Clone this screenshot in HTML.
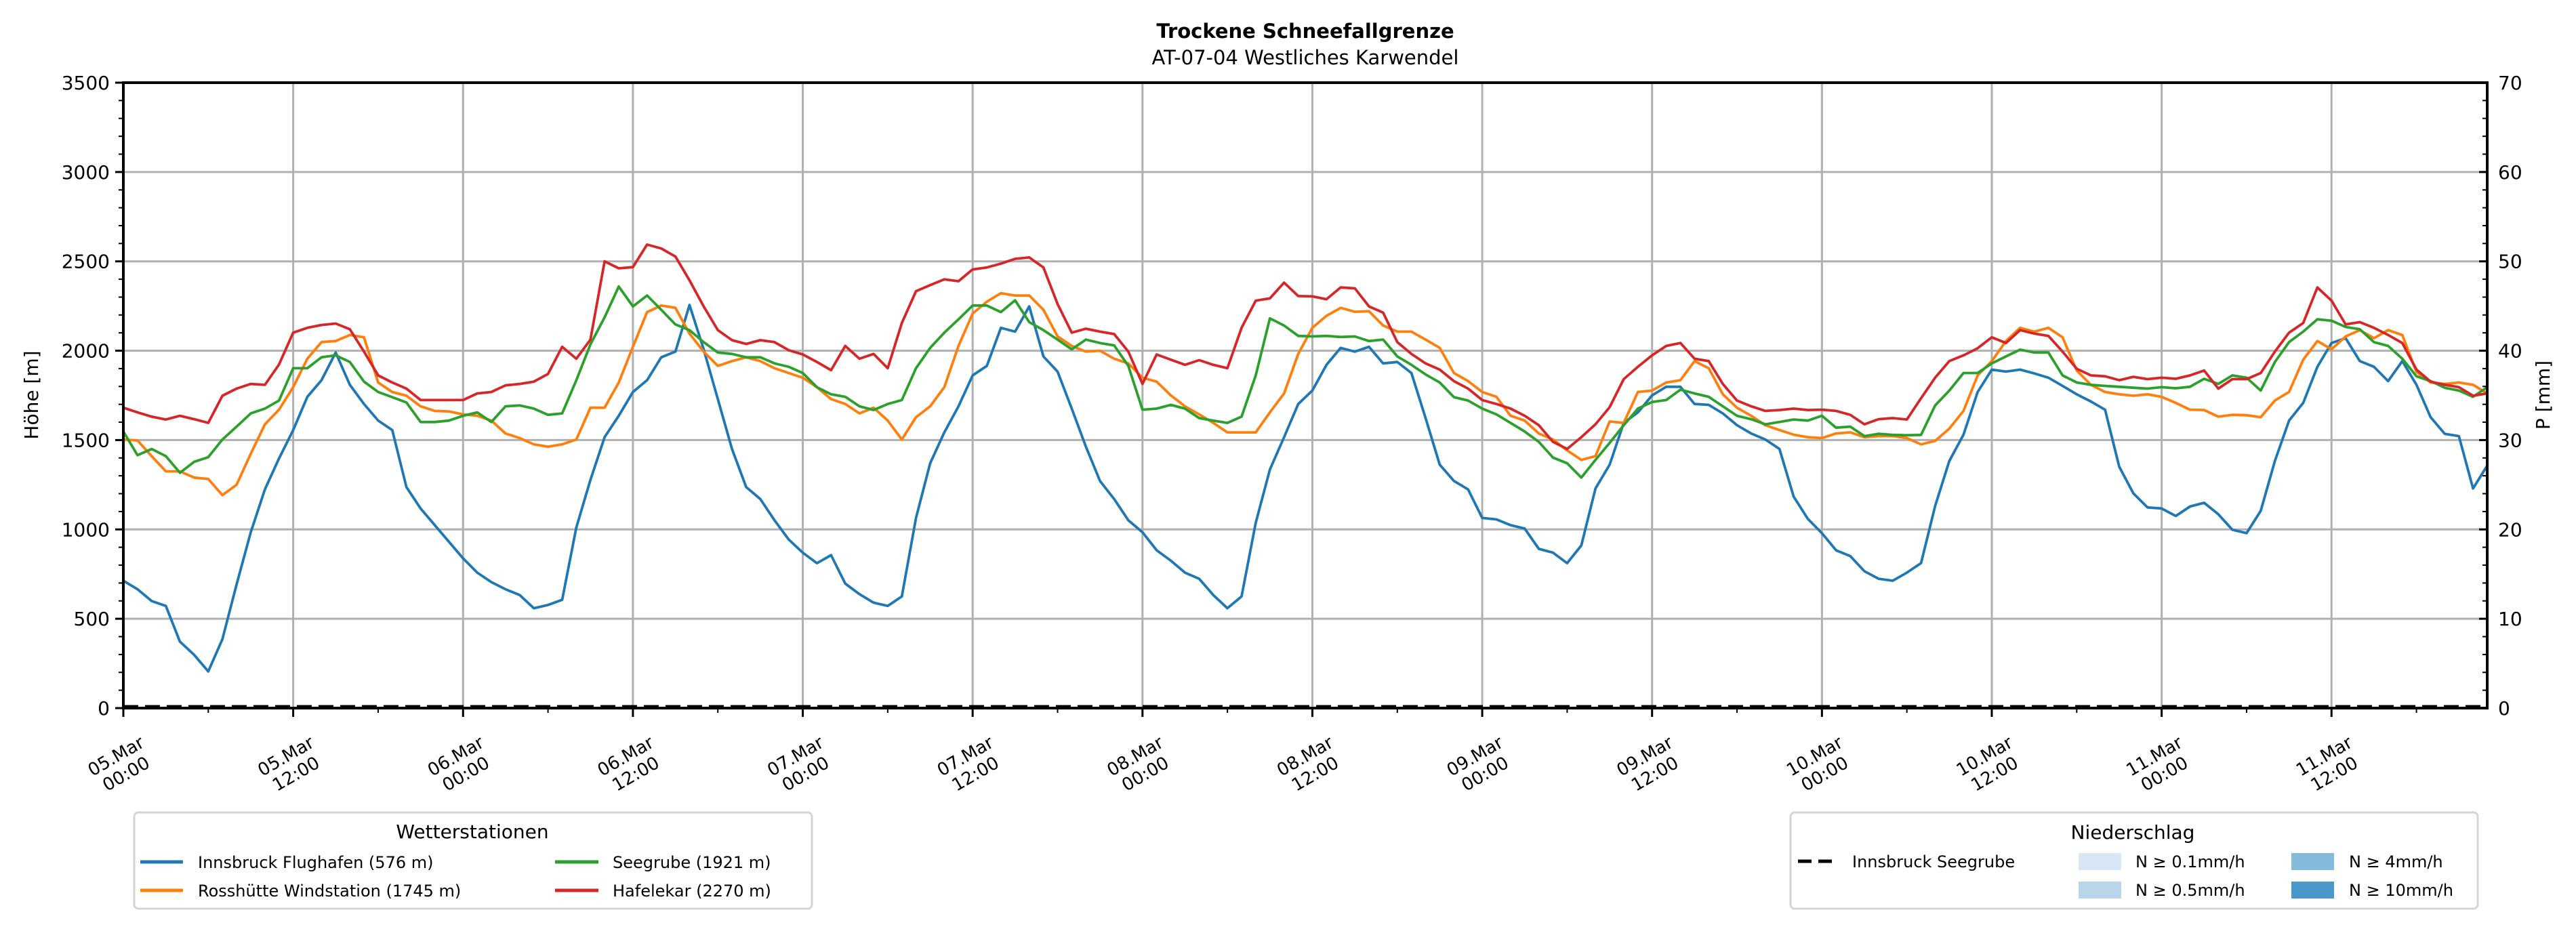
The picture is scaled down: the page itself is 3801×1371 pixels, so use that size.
<!DOCTYPE html>
<html><head><meta charset="utf-8"><style>
html,body{margin:0;padding:0;background:#fff;}
svg{display:block;font-family:"DejaVu Sans","Liberation Sans",sans-serif;}
</style></head><body>
<svg id="chart" width="3801" height="1371" viewBox="0 0 3801 1371" xmlns="http://www.w3.org/2000/svg">
<rect x="0" y="0" width="3801" height="1371" fill="#fff"/>
<text x="1926" y="56" font-size="29" font-weight="bold" text-anchor="middle">Trockene Schneefallgrenze</text>
<text x="1926" y="95" font-size="29" text-anchor="middle">AT-07-04 Westliches Karwendel</text>
<g id="grid"></g>
<g id="series"></g>
<g id="axes"></g>
<text transform="translate(56,583) rotate(-90)" font-size="28" text-anchor="middle">Höhe [m]</text>
<text transform="translate(3762,583) rotate(-90)" font-size="28" text-anchor="middle">P [mm]</text>

<g>
<rect x="198" y="1199" width="1000" height="142" rx="6" fill="#fff" stroke="#d5d5d5" stroke-width="3"/>
<text x="697" y="1237" font-size="28" text-anchor="middle">Wetterstationen</text>
<g><line x1="207" y1="1272" x2="270" y2="1272" stroke="#1f77b4" stroke-width="5"/><text x="292" y="1281" font-size="24">Innsbruck Flughafen (576 m)</text></g>
<g><line x1="207" y1="1314" x2="270" y2="1314" stroke="#ff7f0e" stroke-width="5"/><text x="292" y="1323" font-size="24">Rosshütte Windstation (1745 m)</text></g>
<g><line x1="819" y1="1272" x2="883" y2="1272" stroke="#2ca02c" stroke-width="5"/><text x="904" y="1281" font-size="24">Seegrube (1921 m)</text></g>
<g><line x1="819" y1="1314" x2="883" y2="1314" stroke="#d62728" stroke-width="5"/><text x="904" y="1323" font-size="24">Hafelekar (2270 m)</text></g>
</g>

<g>
<rect x="2642" y="1199" width="1014" height="142" rx="6" fill="#fff" stroke="#d5d5d5" stroke-width="3"/>
<text x="3147" y="1238" font-size="28" text-anchor="middle">Niederschlag</text>
<g><line x1="2653" y1="1271" x2="2708" y2="1271" stroke="#000" stroke-width="5" stroke-dasharray="20,10"/><text x="2733" y="1280" font-size="24">Innsbruck Seegrube</text></g>
<g><rect x="3067" y="1259" width="63" height="25" fill="#d8e7f5"/><text x="3151" y="1280" font-size="24">N ≥ 0.1mm/h</text></g>
<g><rect x="3067" y="1301" width="63" height="25" fill="#b8d5ea"/><text x="3151" y="1322" font-size="24">N ≥ 0.5mm/h</text></g>
<g><rect x="3381" y="1259" width="63" height="25" fill="#84bbdb"/><text x="3466" y="1280" font-size="24">N ≥ 4mm/h</text></g>
<g><rect x="3381" y="1301" width="63" height="25" fill="#4a98c9"/><text x="3466" y="1322" font-size="24">N ≥ 10mm/h</text></g>
</g>
</svg>
<script>
const innsbruck = [713,665,599,572,372,298,205,386,692,984,1224,1397,1556,1742,1835,1990,1809,1702,1609,1556,1237,1117,1024,931,838,758,705,665,633,559,577,606,1011,1277,1516,1636,1769,1835,1963,1995,2256,2008,1729,1450,1237,1170,1051,944,870,811,856,697,638,590,
572,625,1064,1370,1543,1689,1862,1915,2128,2107,2248,1968,1883,1676,1463,1271,1170,1051,984,883,825,758,724,633,559,625,1037,1335,1516,1702,1777,1921,2016,1995,2022,1929,1937,1875,1623,1362,1271,1224,1064,1056,1024,1005,891,870,811,910,1229,1362,1596,1655,1750,1798,1798,
1702,1697,1649,1583,1537,1503,1450,1184,1059,979,883,851,766,724,713,758,811,1131,1383,1530,1769,1894,1883,1894,1873,1849,1803,1756,1716,1670,1351,1202,1123,1117,1075,1128,1149,1085,998,979,1104,1383,1609,1708,1910,2043,2070,1942,1910,1830,1942,1809,1628,1535,1522,1229,1357];
const rosshuette = [1503,1498,1410,1325,1325,1290,1282,1192,1250,1423,1588,1670,1796,1955,2048,2054,2088,2075,1822,1769,1748,1689,1663,1660,1644,1636,1609,1537,1511,1476,1463,1476,1503,1681,1681,1822,2022,2216,2253,2240,2096,1995,1915,1942,1963,1942,1902,1875,1849,1796,1729,1702,1649,1681,
1609,1503,1628,1689,1796,2027,2208,2274,2322,2309,2309,2229,2080,2027,1995,2000,1955,1929,1849,1827,1750,1689,1644,1596,1543,1543,1543,1655,1761,1982,2128,2195,2240,2218,2221,2141,2107,2107,2062,2016,1875,1830,1769,1742,1636,1609,1537,1503,1442,1389,1410,1604,1596,1769,1777,1822,1835,
1942,1902,1756,1681,1636,1583,1556,1530,1516,1511,1537,1543,1516,1522,1522,1511,1476,1495,1564,1663,1862,1942,2054,2128,2107,2128,2075,1889,1809,1769,1756,1748,1756,1742,1708,1670,1668,1631,1641,1639,1628,1721,1769,1950,2054,2008,2080,2115,2070,2115,2088,1881,1822,1814,1822,1809,1761];
const seegrube = [1548,1415,1450,1410,1317,1378,1404,1503,1575,1649,1676,1721,1902,1902,1963,1974,1937,1827,1769,1740,1710,1601,1601,1609,1636,1655,1601,1689,1694,1676,1641,1649,1835,2035,2187,2359,2248,2309,2229,2147,2115,2048,1990,1982,1963,1963,1929,1910,1875,1796,1756,1742,1689,1668,
1702,1724,1902,2016,2101,2176,2253,2253,2216,2282,2160,2115,2062,2008,2062,2043,2030,1915,1670,1676,1697,1676,1623,1609,1596,1631,1862,2181,2141,2083,2080,2083,2077,2080,2054,2062,1968,1921,1867,1822,1740,1721,1676,1644,1596,1548,1490,1402,1370,1290,1389,1484,1583,1676,1713,1724,1782,
1761,1742,1689,1636,1617,1588,1601,1615,1609,1636,1569,1575,1522,1535,1529,1527,1529,1694,1777,1875,1875,1929,1968,2006,1990,1990,1862,1822,1809,1803,1798,1793,1788,1796,1790,1798,1843,1814,1862,1849,1777,1937,2048,2107,2176,2168,2133,2120,2048,2027,1955,1857,1830,1793,1777,1742,1796];
const hafelekar = [1681,1655,1631,1615,1636,1617,1596,1748,1788,1814,1809,1923,2101,2128,2144,2152,2120,1995,1862,1822,1788,1724,1724,1724,1724,1761,1769,1806,1814,1827,1870,2022,1955,2062,2500,2461,2468,2594,2572,2527,2394,2248,2115,2059,2038,2059,2048,2003,1979,1937,1891,2027,1955,1982,
1902,2155,2333,2367,2399,2389,2455,2466,2487,2514,2522,2466,2261,2101,2123,2107,2093,1995,1814,1979,1950,1921,1947,1921,1902,2128,2280,2293,2381,2306,2304,2288,2354,2349,2248,2213,2048,1982,1929,1894,1830,1788,1724,1702,1676,1636,1583,1490,1450,1516,1588,1684,1841,1910,1974,2027,2043,
1955,1942,1814,1721,1689,1663,1668,1676,1668,1670,1663,1641,1588,1617,1623,1615,1734,1849,1942,1974,2014,2075,2043,2115,2096,2083,1995,1899,1862,1857,1835,1854,1841,1849,1843,1862,1889,1788,1841,1841,1875,1995,2101,2155,2354,2280,2147,2160,2128,2088,2043,1894,1827,1809,1796,1748,1761];
const precipSeegrube = new Array(168).fill(0);
const xTickLabels = ["05.Mar|00:00","05.Mar|12:00","06.Mar|00:00","06.Mar|12:00","07.Mar|00:00","07.Mar|12:00","08.Mar|00:00","08.Mar|12:00","09.Mar|00:00","09.Mar|12:00","10.Mar|00:00","10.Mar|12:00","11.Mar|00:00","11.Mar|12:00"];
const yTicks = [0,500,1000,1500,2000,2500,3000,3500];
const y2Ticks = [0,10,20,30,40,50,60,70];

const NS='http://www.w3.org/2000/svg';
const L=182,R=3670,T=122,B=1045,NH=167;
const xs=h=>L+h*(R-L)/NH;
const ys=v=>B-v*(B-T)/3500;
const ys2=p=>B-p*(B-T)/70;
function mk(tag,attrs,parent){const e=document.createElementNS(NS,tag);for(const k in attrs)e.setAttribute(k,attrs[k]);parent.appendChild(e);return e;}
const grid=document.getElementById('grid'),axes=document.getElementById('axes'),ser=document.getElementById('series');

yTicks.forEach(v=>{
  if(v>0&&v<3500){const g=mk('line',{x1:L,x2:R,y1:ys(v),y2:ys(v),stroke:'#b0b0b0','stroke-width':3},grid);
  
  }
  const t=mk('line',{x1:L-12,x2:L,y1:ys(v),y2:ys(v),stroke:'#000','stroke-width':3},axes);
  
  
  const tx=mk('text',{x:L-20,y:ys(v)+10,'font-size':28,'text-anchor':'end'},axes);
  tx.textContent=v;
  
  
});
for(let v=0;v<=3500;v+=100){if(v%500){const m=mk('line',{x1:L-7,x2:L,y1:ys(v),y2:ys(v),stroke:'#000','stroke-width':2},axes);

}}
y2Ticks.forEach(p=>{
  const t=mk('line',{x1:R-12,x2:R,y1:ys2(p),y2:ys2(p),stroke:'#000','stroke-width':3},axes);
  
  
  const tx=mk('text',{x:R+16,y:ys2(p)+10,'font-size':28},axes);
  tx.textContent=p;
  
  
});
for(let p=0;p<=70;p+=2){if(p%10){const m=mk('line',{x1:R-7,x2:R,y1:ys2(p),y2:ys2(p),stroke:'#000','stroke-width':2},axes);

}}
xTickLabels.forEach((lab,i)=>{
  const h=i*12,x=xs(h);
  if(i>0){const g=mk('line',{x1:x,x2:x,y1:T,y2:B,stroke:'#b0b0b0','stroke-width':3},grid);
  
  }
  const t=mk('line',{x1:x,x2:x,y1:B,y2:B+13,stroke:'#000','stroke-width':3},axes);
  
  
  const m=mk('line',{x1:xs(h+6),x2:xs(h+6),y1:B,y2:B+7,stroke:'#000','stroke-width':2},axes);
  
  
  const parts=lab.split('|');
  const tx=mk('text',{transform:`translate(${x-4},1128) rotate(-30)`,'font-size':26,'text-anchor':'middle'},axes);
  
  
  const a=mk('tspan',{x:0,y:-5},tx);a.textContent=parts[0];
  const b=mk('tspan',{x:0,y:25},tx);b.textContent=parts[1];
});
const seriesDefs=[[innsbruck,'#1f77b4','line-innsbruck-flughafen'],[rosshuette,'#ff7f0e','line-rosshuette-windstation'],[seegrube,'#2ca02c','line-seegrube'],[hafelekar,'#d62728','line-hafelekar']];
seriesDefs.forEach(([d,c,n])=>{
  const p=mk('polyline',{points:d.map((v,i)=>xs(i).toFixed(1)+','+ys(v).toFixed(1)).join(' '),fill:'none',stroke:c,'stroke-width':3.8,'stroke-linejoin':'round'},ser);
  
  
});
const pl=mk('polyline',{points:precipSeegrube.map((v,i)=>xs(i).toFixed(1)+','+(ys2(v)-2).toFixed(1)).join(' '),fill:'none',stroke:'#000','stroke-width':5,'stroke-dasharray':'22,10'},ser);


const fr=mk('rect',{x:L,y:T,width:R-L,height:B-T,fill:'none',stroke:'#000','stroke-width':4},axes);


</script>
</body></html>
